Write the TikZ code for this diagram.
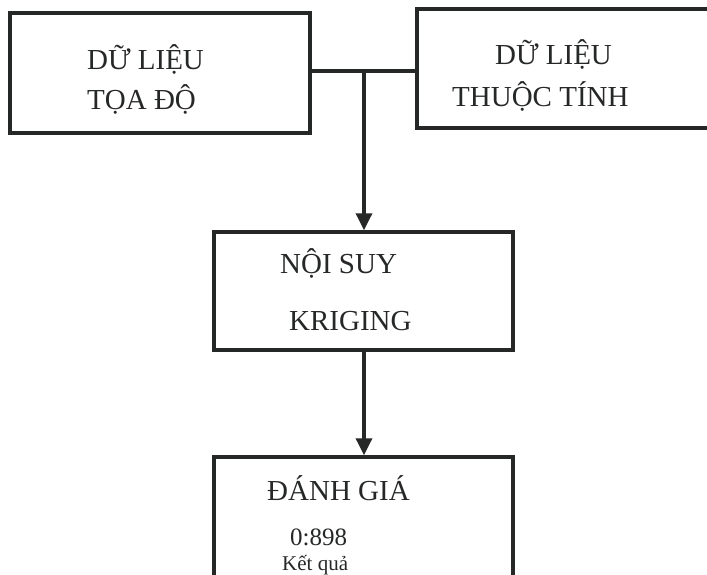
\documentclass[tikz,border=0pt]{standalone}
\usepackage{fontspec}
\setmainfont{Liberation Serif}
\usetikzlibrary{arrows.meta}
\definecolor{ink}{RGB}{38,40,40}
\tikzset{
  box/.style={draw=ink, line width=3.5pt, minimum width=#1, inner sep=0pt},
  lbl/.style={anchor=base west, inner sep=0pt, text=ink, font=\fontsize{29}{34}\selectfont},
  small/.style={anchor=base west, inner sep=0pt, text=ink, font=\fontsize{25}{30}\selectfont},
  tiny/.style={anchor=base west, inner sep=0pt, text=ink, font=\fontsize{21}{25}\selectfont},
  link/.style={draw=ink, line width=3.5pt},
  arr/.style={link, -{Triangle[width=16pt,length=17pt]}}
}
\begin{document}
\begin{tikzpicture}[x=1pt,y=-1pt]
\useasboundingbox (0,0) rectangle (707,575);
\fill[white] (0,0) rectangle (707,575);
% boxes
\node[box=300pt, minimum height=120pt] (toado) at (160,73) {};
\node[box=328pt, minimum height=119pt] (thuoctinh) at (581,68.5) {};
\node[box=299pt, minimum height=118pt] (noisuy) at (363.5,291) {};
\node[box=299pt, minimum height=143pt] (danhgia) at (363.5,528.5) {};
% texts
\node[lbl] (t1) at (87,70) {DỮ LIỆU};
\node[lbl] (t2) at (87,110) {TỌA ĐỘ};
\node[lbl] (t3) at (495,65) {DỮ LIỆU};
\node[lbl] (t4) at (452,107) {THUỘC TÍNH};
\node[lbl] (t5) at (280,273) {NỘI SUY};
\node[lbl] (t6) at (289,330) {KRIGING};
\node[lbl] (t7) at (267,500) {ĐÁNH GIÁ};
\node[small] (t8) at (290,545) {0:898};
\node[tiny] (t9) at (282,570) {Kết quả};
% connectors
\coordinate (j) at (364,71);
\draw[link] (toado.east |- j) -- (thuoctinh.west |- j);
\draw[arr] (j) -- (j |- noisuy.north);
\draw[arr] (j |- noisuy.south) -- (j |- danhgia.north);
\end{tikzpicture}
\end{document}
